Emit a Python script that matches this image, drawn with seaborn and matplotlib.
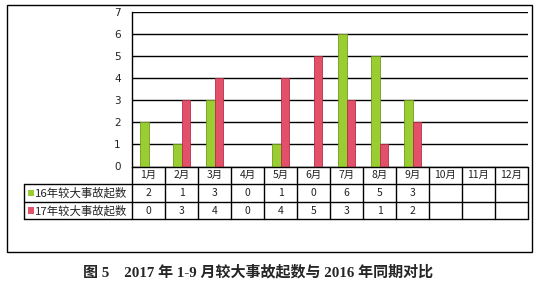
import matplotlib
matplotlib.use("Agg")
import matplotlib.pyplot as plt
import matplotlib.transforms as mtransforms
from matplotlib.patches import Rectangle
from matplotlib.lines import Line2D
import seaborn as sns
import pandas as pd
import numpy as np

months = ["1月", "2月", "3月", "4月", "5月", "6月", "7月", "8月", "9月", "10月", "11月", "12月"]
series_names = ["16年较大事故起数", "17年较大事故起数"]
values_2016 = [2, 1, 3, 0, 1, 0, 6, 5, 3]
values_2017 = [0, 3, 4, 0, 4, 5, 3, 1, 2]
yticks = [0, 1, 2, 3, 4, 5, 6, 7]
title = "图 5    2017 年 1-9 月较大事故起数与 2016 年同期对比"

colors = ["#9acd32", "#e2506a"]
edges = ["#6f9a1c", "#b33048"]

rows = []
for name, vals in zip(series_names, [values_2016, values_2017]):
    for m, v in zip(months, vals):
        rows.append({"month": m, "series": name, "value": v})
df = pd.DataFrame(rows)

sns.set_theme(style="white")
plt.rcParams["font.family"] = ["Noto Sans CJK SC", "DejaVu Sans"]

W, H = 543, 292
fig = plt.figure(figsize=(W / 100, H / 100), dpi=100)

def fx(px):
    return px / W

def fy(py):
    return 1 - py / H

ax_left, ax_right, ax_top, ax_bot = 132, 528, 12.3, 166.5
ax = fig.add_axes([fx(ax_left), fy(ax_bot), fx(ax_right - ax_left), (ax_bot - ax_top) / H])

sns.barplot(data=df, x="month", y="value", hue="series", order=months,
            hue_order=series_names, palette=colors, width=0.54, ax=ax,
            legend=False, saturation=1, errorbar=None)
for i, cont in enumerate(ax.containers):
    for p in cont:
        p.set_edgecolor(edges[i])
        p.set_linewidth(0.6)
        p.set_zorder(3)

ax.set_ylim(0, 7)
ax.set_xlim(-0.5, len(months) - 0.5)
ax.set_yticks(yticks)
ax.set_yticklabels([str(t) for t in yticks], fontsize=7.5, family="DejaVu Sans", color="#222222")
ax.tick_params(axis="y", length=0, pad=8)
ax.set_xticks([])
ax.set_xlabel("")
ax.set_ylabel("")
ax.yaxis.grid(True, color="black", linewidth=1.0)
ax.set_axisbelow(True)
for s in ["top", "right", "bottom"]:
    ax.spines[s].set_visible(False)
ax.spines["left"].set_color("black")
ax.spines["left"].set_linewidth(1.0)

# Data table below the chart
trans = mtransforms.blended_transform_factory(ax.transData, fig.transFigure)
y_hdr_top, y_hdr_bot, y_r1_bot, y_r2_bot = 166.5, 184, 202, 219
tbl_left = 24
lw = 1.0
n = len(months)

def hline(x0px, x1px, ypx):
    fig.add_artist(Line2D([fx(x0px), fx(x1px)], [fy(ypx), fy(ypx)], color="black", lw=lw))

hline(ax_left, ax_right, y_hdr_top)
hline(tbl_left, ax_right, y_hdr_bot)
hline(tbl_left, ax_right, y_r1_bot)
hline(tbl_left, ax_right, y_r2_bot)
fig.add_artist(Line2D([fx(tbl_left)] * 2, [fy(y_hdr_bot), fy(y_r2_bot)], color="black", lw=lw))
for k in range(n + 1):
    fig.add_artist(Line2D([k - 0.5, k - 0.5], [fy(y_hdr_top), fy(y_r2_bot)],
                          color="black", lw=lw, transform=trans))

for i, m in enumerate(months):
    fig.text(i, fy((y_hdr_top + y_hdr_bot) / 2), m, transform=trans, ha="center",
             va="center", fontsize=7.5, color="#222222")
for r, (vals, ytop, ybot) in enumerate([(values_2016, y_hdr_bot, y_r1_bot),
                                        (values_2017, y_r1_bot, y_r2_bot)]):
    yc = fy((ytop + ybot) / 2)
    for i, v in enumerate(vals):
        fig.text(i, yc, str(v), transform=trans, ha="center", va="center",
                 fontsize=7.5, color="#222222")
    fig.add_artist(Rectangle((fx(28), yc - 3.2 / H), 5.5 / W, 6.5 / H,
                             facecolor=colors[r], edgecolor="none"))
    fig.text(fx(34.5), yc, series_names[r], ha="left", va="center", fontsize=8.2,
             color="#222222")

# Outer border
fig.add_artist(Rectangle((fx(7), fy(252)), fx(532 - 7), (252 - 5) / H,
                         facecolor="none", edgecolor="black", lw=1.0))

fig.text(fx(258.5), fy(272), title, ha="center", va="center", fontsize=10.8,
         fontweight="bold", family=["Liberation Serif", "Noto Sans CJK SC"])

fig.savefig("out.png", dpi=100)
